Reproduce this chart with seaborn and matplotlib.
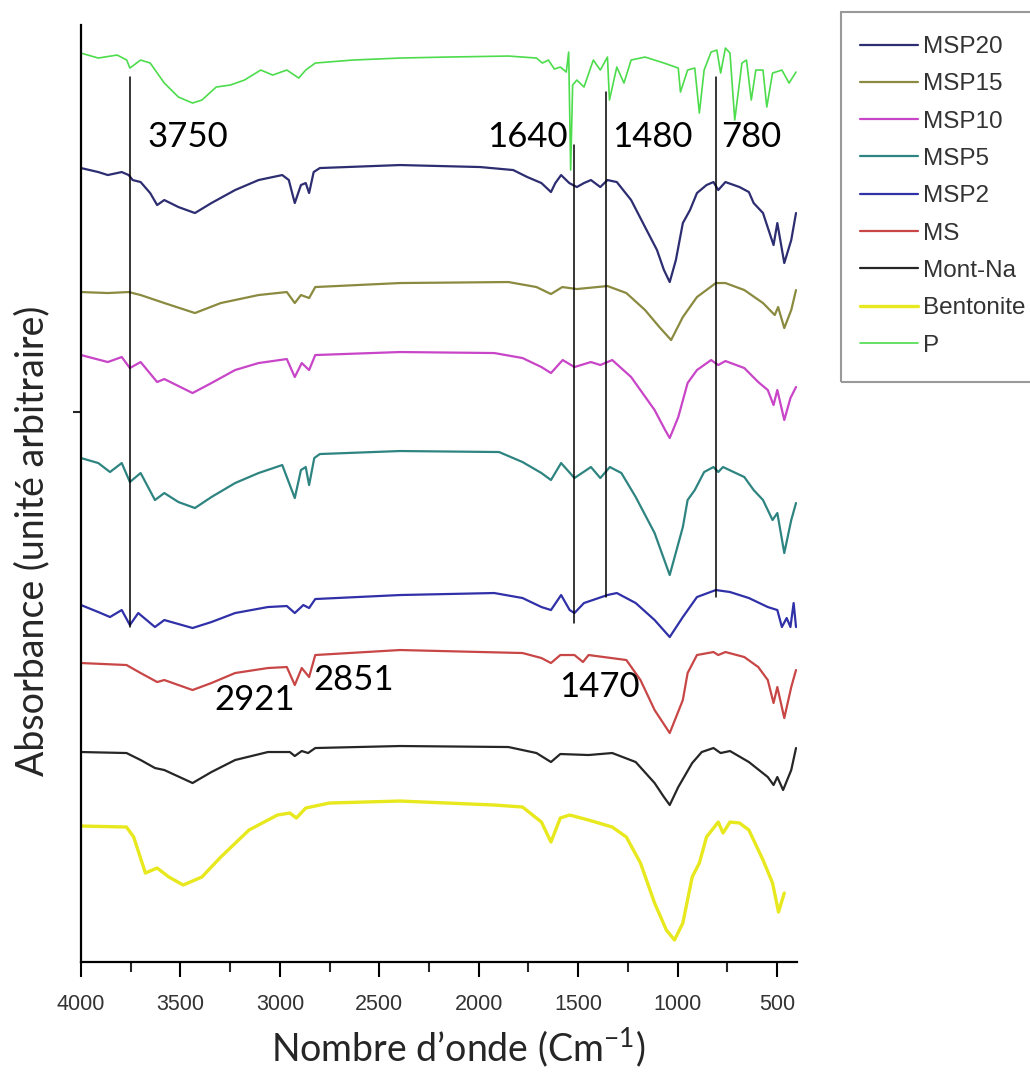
import matplotlib
matplotlib.use("Agg")
import matplotlib.pyplot as plt
import seaborn as sns
from matplotlib.patches import Rectangle
from matplotlib.ticker import MultipleLocator, NullFormatter

#? Spectra: wavenumber (cm-1) and stacked absorbance (arbitrary units)
p_wn = [4000, 3913, 3818, 3770, 3754, 3700, 3652, 3581, 3510, 3439, 3392, 3320, 3249, 3178, 3096, 3036,
        2965, 2905, 2870, 2822, 2634, 2396, 2159, 1851, 1710, 1680, 1650, 1620, 1590, 1560, 1548, 1538,
        1528, 1507, 1471, 1424, 1389, 1353, 1343, 1306, 1270, 1234, 1164, 1069, 997, 986, 950, 914,
        891, 867, 832, 803, 784, 760, 737, 713, 677, 654, 630, 607, 571, 552, 523, 476, 440, 405]
p_ab = [909, 904, 907, 902, 894, 902, 899, 879, 865, 859, 862, 875, 877, 882, 892, 887,
        892, 884, 892, 899, 902, 904, 905, 906, 904, 899, 902, 893, 895, 890, 910, 792,
        877, 882, 875, 902, 892, 905, 862, 895, 879, 902, 905, 899, 894, 870, 892, 894,
        849, 892, 910, 912, 889, 914, 909, 842, 899, 902, 862, 892, 892, 855, 889, 892, 879, 890]

msp20_wn = [4000, 3913, 3865, 3795, 3760, 3740, 3700, 3652, 3617, 3581, 3510, 3427, 3344, 3225, 3107,
            2988, 2955, 2925, 2894, 2870, 2853, 2830, 2799, 2396, 1993, 1827, 1756, 1685, 1637, 1615,
            1586, 1545, 1507, 1471, 1436, 1389, 1353, 1306, 1234, 1164, 1104, 1069, 1040, 1009, 974,
            938, 903, 855, 820, 796, 760, 689, 642, 618, 571, 518, 499, 464, 429, 405]
msp20_ab = [794, 790, 787, 790, 787, 782, 780, 769, 757, 762, 755, 749, 759, 772, 782,
            787, 782, 759, 777, 779, 769, 790, 794, 797, 795, 792, 785, 779, 770, 779,
            787, 779, 775, 779, 782, 775, 782, 780, 762, 735, 712, 692, 680, 702, 739,
            752, 769, 777, 780, 772, 780, 775, 770, 759, 749, 717, 739, 699, 722, 749]

msp15_wn = [4000, 3865, 3760, 3700, 3581, 3427, 3297, 3107, 2965, 2925, 2894, 2853, 2822, 2396, 1851,
            1710, 1637, 1580, 1507, 1353, 1258, 1164, 1092, 1033, 974, 903, 808, 760, 665, 571,
            512, 495, 464, 429, 405]
msp15_ab = [670, 669, 670, 667, 659, 649, 659, 667, 670, 659, 667, 664, 675, 679, 680,
            675, 668, 675, 673, 676, 669, 652, 635, 622, 645, 665, 679, 679, 672, 659,
            647, 655, 634, 652, 672]

msp10_wn = [4000, 3865, 3795, 3754, 3700, 3617, 3581, 3439, 3344, 3225, 3107, 2965, 2925, 2890, 2853,
            2822, 2396, 1922, 1780, 1685, 1637, 1578, 1519, 1436, 1389, 1329, 1234, 1116, 1063, 1040,
            997, 950, 903, 832, 796, 760, 665, 595, 547, 518, 499, 464, 433, 405]
msp10_ab = [607, 600, 605, 594, 600, 580, 583, 569, 579, 592, 599, 603, 585, 599, 592,
            607, 610, 609, 604, 595, 589, 602, 595, 600, 597, 602, 585, 552, 532, 524,
            545, 579, 592, 602, 597, 601, 594, 580, 572, 557, 572, 542, 564, 575]

msp5_wn = [4000, 3913, 3854, 3795, 3754, 3700, 3628, 3581, 3510, 3427, 3344, 3225, 3107, 2988, 2925,
           2894, 2870, 2853, 2827, 2799, 2396, 1898, 1780, 1685, 1637, 1586, 1519, 1436, 1389, 1341,
           1283, 1211, 1116, 1040, 974, 950, 914, 867, 820, 796, 772, 665, 618, 571, 523, 499, 464,
           429, 405]
msp5_ab = [504, 499, 490, 499, 480, 489, 462, 469, 460, 454, 465, 479, 489, 497, 464,
           492, 495, 477, 504, 508, 511, 510, 500, 489, 482, 499, 484, 495, 484, 495,
           489, 465, 429, 387, 435, 462, 472, 490, 495, 490, 495, 485, 472, 462, 442, 449, 409,
           442, 459]

msp2_wn = [4000, 3913, 3854, 3795, 3754, 3712, 3628, 3581, 3439, 3344, 3225, 3060, 2965, 2925, 2882,
           2853, 2822, 2396, 1922, 1780, 1685, 1637, 1586, 1543, 1519, 1471, 1353, 1306, 1211, 1116,
           1040, 974, 903, 808, 737, 642, 547, 499, 476, 452, 433, 417, 405]
msp2_ab = [357, 350, 345, 352, 337, 349, 335, 342, 334, 340, 349, 355, 356, 349, 357,
           354, 363, 367, 369, 364, 355, 352, 367, 352, 349, 359, 367, 369, 359, 342,
           325, 345, 365, 372, 370, 364, 355, 352, 335, 344, 335, 359, 335]

ms_wn = [4000, 3771, 3700, 3617, 3581, 3439, 3344, 3225, 3060, 2965, 2925, 2890, 2853, 2822, 2396,
         1780, 1685, 1637, 1590, 1519, 1476, 1448, 1258, 1187, 1116, 1040, 974, 950, 903, 820,
         796, 760, 665, 595, 547, 518, 499, 464, 429, 405]
ms_ab = [299, 297, 289, 280, 282, 272, 279, 289, 294, 295, 277, 294, 285, 307, 312,
         309, 304, 299, 307, 307, 300, 307, 302, 282, 252, 229, 262, 289, 307, 310,
         307, 310, 305, 295, 282, 259, 275, 244, 275, 292]

montna_wn = [4000, 3771, 3700, 3628, 3581, 3439, 3344, 3225, 3060, 2950, 2925, 2890, 2858, 2822, 2396,
             1851, 1710, 1637, 1590, 1448, 1329, 1211, 1116, 1069, 1040, 997, 927, 879, 820, 784,
             737, 642, 547, 518, 499, 470, 429, 405]
montna_ab = [210, 209, 202, 194, 192, 179, 190, 202, 210, 210, 206, 211, 209, 214, 216,
             215, 209, 200, 208, 207, 209, 200, 179, 165, 157, 175, 199, 210, 214, 209,
             211, 200, 185, 177, 185, 172, 192, 214]

bent_wn = [4000, 3771, 3735, 3676, 3617, 3558, 3486, 3392, 3297, 3155, 3012, 2950, 2917, 2870, 2751,
           2396, 1922, 1780, 1685, 1637, 1590, 1543, 1448, 1329, 1258, 1187, 1116, 1057, 1016, 974,
           927, 891, 855, 796, 772, 737, 689, 642, 571, 523, 493, 464]
bent_ab = [136, 135, 125, 89, 94, 85, 77, 85, 105, 132, 147, 149, 144, 154, 159,
           161, 157, 155, 140, 120, 144, 147, 142, 135, 125, 99, 59, 32, 22, 39,
           85, 99, 125, 140, 129, 140, 139, 132, 102, 79, 50, 69]

#? Legend order and colours
names = ["MSP20", "MSP15", "MSP10", "MSP5", "MSP2", "MS", "Mont-Na", "Bentonite", "P"]
spectra = [(msp20_wn, msp20_ab), (msp15_wn, msp15_ab), (msp10_wn, msp10_ab), (msp5_wn, msp5_ab),
           (msp2_wn, msp2_ab), (ms_wn, ms_ab), (montna_wn, montna_ab), (bent_wn, bent_ab), (p_wn, p_ab)]
colors = ["#2d2d72", "#8a8a40", "#c845c8", "#2e8480", "#3030a8", "#c84646", "#262626", "#e8e81e", "#4cdc4c"]
widths = [1.6, 1.6, 1.6, 1.6, 1.6, 1.6, 1.6, 2.4, 1.2]

#? Marker lines and band labels
mark_wn = [3754, 1519, 1358, 808]
mark_top = [885, 817, 870, 885]
mark_bot = [335, 339, 365, 365]
band_text = ["3750", "1640", "1480", "780", "2921", "2851", "1470"]
band_wn = [3462, 1754, 1126, 628, 3126, 2628, 1392]
band_ab = [825, 825, 825, 825, 262, 282, 275]

sns.set_style("ticks")
plt.rcParams["font.family"] = ["Lato", "DejaVu Sans"]
plt.rcParams["mathtext.fontset"] = "custom"
plt.rcParams["mathtext.rm"] = "Lato"
arial = ["Liberation Sans", "DejaVu Sans"]

fig = plt.figure(figsize=(10.3, 10.75), dpi=100)
ax = fig.add_axes([0.0786, 0.1051, 0.6952, 0.8716])

for name, (wn, ab), c, lw in zip(names, spectra, colors, widths):
    sns.lineplot(x=wn, y=ab, color=c, lw=lw, label=name, estimator=None, ax=ax)

for x, y0, y1 in zip(mark_wn, mark_bot, mark_top):
    ax.plot([x, x], [y0, y1], color="black", lw=1.1)

for t, x, y in zip(band_text, band_wn, band_ab):
    ax.text(x, y, t, fontsize=25, ha="center", va="center", color="black")

ax.set_xlim(4000, 400)
ax.set_ylim(0, 937)
ax.xaxis.set_major_locator(MultipleLocator(500))
ax.xaxis.set_minor_locator(MultipleLocator(250))
ax.set_yticks([550])
ax.yaxis.set_major_formatter(NullFormatter())
ax.tick_params(axis="x", which="major", length=11, width=1.5, pad=12, labelsize=15.5,
               color="black", labelcolor="#333333")
ax.tick_params(axis="x", which="minor", length=7, width=1.5)
ax.tick_params(axis="y", length=6, width=1.5)
for lab in ax.get_xticklabels():
    lab.set_family(arial)

sns.despine(ax=ax)
for s in ["left", "bottom"]:
    ax.spines[s].set_linewidth(1.6)
    ax.spines[s].set_color("black")

ax.set_xlabel("Nombre d\u2019onde (Cm$^{-1}$)", fontsize=27, va="center")
ax.xaxis.set_label_coords(0.527, -0.092)
ax.set_ylabel("Absorbance (unit\u00e9 arbitraire)", fontsize=27, va="center")
ax.yaxis.set_label_coords(-0.068, 0.45)

#? Legend with box running off the right edge
h, l = ax.get_legend_handles_labels()
ax.legend(h, l, loc="upper left", bbox_to_anchor=(0.835, 0.9665), bbox_transform=fig.transFigure,
          frameon=False, borderpad=0, borderaxespad=0, handlelength=2.4, handletextpad=0.2,
          labelspacing=0.63, prop={"family": arial, "size": 17.5}, labelcolor="#333333")
fig.patches.append(Rectangle((0.8165, 0.645), 0.3, 0.344, transform=fig.transFigure,
                             fill=False, edgecolor="#999999", lw=1.5))

fig.savefig("out.png", dpi=100)
